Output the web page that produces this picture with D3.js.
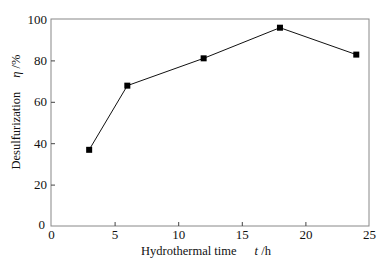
<!DOCTYPE html>
<html><head><meta charset="utf-8">
<script src="https://cdn.jsdelivr.net/npm/d3@7"></script>
<style>body{margin:0;background:#fff}svg{display:block}text{font-family:"Liberation Serif","Times New Roman",serif;fill:#111}</style>
</head><body><svg id="c" width="385" height="260"></svg>
<script>
const times = [3, 6, 12, 18, 24];
const desulf = [36.8, 67.8, 81, 95.8, 82.8];
const xTicks = [0, 5, 10, 15, 20, 25];
const yTicks = [0, 20, 40, 60, 80, 100];

const svg = d3.select("#c");
const L = 51, R = 369, T = 19, B = 226;
const x = d3.scaleLinear().domain([0, 25]).range([L, R]);
const y = d3.scaleLinear().domain([0, 100]).range([B, T]);

svg.append("rect").attr("x", L).attr("y", T).attr("width", R - L).attr("height", B - T)
  .attr("fill", "none").attr("stroke", "#888").attr("stroke-width", 1);

const xa = svg.append("g").attr("transform", `translate(0,${B})`)
  .call(d3.axisBottom(x).tickValues(xTicks).tickSize(-4).tickPadding(0).tickFormat(d3.format("d")));
xa.select(".domain").remove();
xa.selectAll("line").attr("stroke", "#444");
xa.selectAll("text").attr("font-size", 13).attr("fill", "#111").attr("y", 13).attr("dy", null);
xa.selectAll(".tick").filter(d => d === 0 || d === 25).select("line").remove();

const ya = svg.append("g").attr("transform", `translate(${L},0)`)
  .call(d3.axisLeft(y).tickValues(yTicks).tickSize(-4).tickPadding(4).tickFormat(d3.format("d")));
ya.select(".domain").remove();
ya.selectAll("line").attr("stroke", "#444");
ya.selectAll("text").attr("font-size", 13).attr("fill", "#111");
ya.selectAll(".tick").filter(d => d === 0 || d === 100).select("line").remove();
ya.selectAll(".tick").filter(d => d === 0).select("text").attr("dy", "0.2em").attr("x", -6);

const pts = times.map((t, i) => [t, desulf[i]]);
svg.append("path").datum(pts)
  .attr("d", d3.line().x(d => x(d[0])).y(d => y(d[1])))
  .attr("fill", "none").attr("stroke", "#111").attr("stroke-width", 1);
svg.selectAll("rect.m").data(pts).join("rect").attr("class", "m")
  .attr("x", d => x(d[0]) - 3).attr("y", d => y(d[1]) - 3)
  .attr("width", 6).attr("height", 6).attr("fill", "#000");

const xt = svg.append("text").attr("x", 206).attr("y", 255).attr("text-anchor", "middle").attr("font-size", 12.5);
xt.append("tspan").text("Hydrothermal time");
xt.append("tspan").attr("dx", 18).attr("font-style", "italic").text("t");
xt.append("tspan").text(" /h");

const yt = svg.append("text").attr("transform", `translate(20,112) rotate(-90)`)
  .attr("text-anchor", "middle").attr("font-size", 12.5);
yt.append("tspan").text("Desulfurization");
yt.append("tspan").attr("dx", 14).attr("font-style", "italic").text("η");
yt.append("tspan").text(" /%");
</script></body></html>
